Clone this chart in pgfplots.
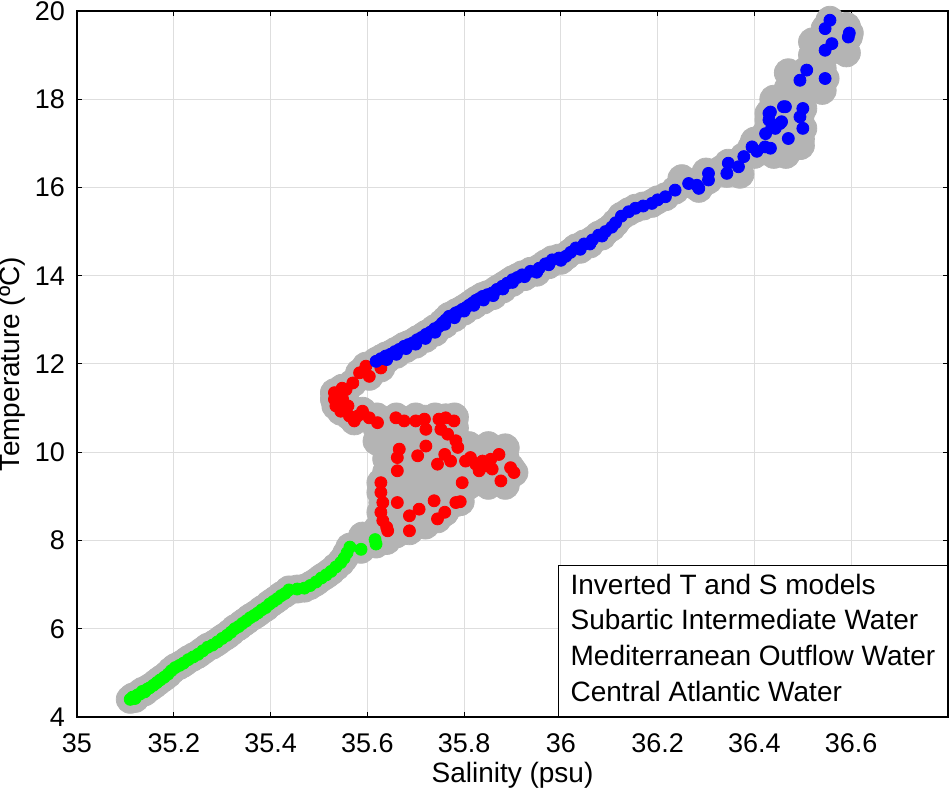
\documentclass[border=0pt]{standalone}
\usepackage{pgfplots}
\pgfplotsset{compat=1.18}
\usepackage{pgfplotstable}
\usepackage{fontspec}
\setmainfont{Liberation Sans}
\usetikzlibrary{calc}
\definecolor{ptgray}{RGB}{180,180,180}
\definecolor{gridc}{RGB}{222,222,222}

\pgfplotstableread{
x y
35.110 4.40
35.115 4.45
35.120 4.42
35.125 4.50
35.130 4.52
35.135 4.58
35.140 4.57
35.145 4.63
35.150 4.66
35.158 4.72
35.165 4.78
35.172 4.84
35.180 4.90
35.188 4.97
35.195 5.05
35.203 5.12
35.212 5.17
35.220 5.22
35.230 5.30
35.240 5.36
35.250 5.42
35.260 5.50
35.270 5.58
35.280 5.63
35.290 5.70
35.300 5.78
35.310 5.85
35.318 5.92
35.326 6.00
35.334 6.05
35.342 6.12
35.350 6.18
35.358 6.25
35.366 6.30
35.374 6.36
35.382 6.43
35.390 6.48
35.398 6.56
35.406 6.62
35.414 6.68
35.422 6.75
35.430 6.80
35.438 6.88
35.455 6.90
35.470 6.92
35.482 6.98
35.494 7.06
35.505 7.15
35.515 7.22
35.525 7.30
35.535 7.40
35.545 7.50
35.552 7.60
35.558 7.72
35.564 7.85
35.587 7.80
35.618 7.92
35.616 8.02
}\greendata

\pgfplotstableread{
x y
35.628 11.91
35.597 11.95
35.584 11.80
35.604 11.72
35.570 11.57
35.556 11.42
35.548 11.45
35.542 11.31
35.532 11.35
35.532 11.20
35.549 11.20
35.535 11.05
35.560 11.05
35.545 10.93
35.563 10.82
35.580 10.82
35.573 10.71
35.590 10.93
35.604 10.78
35.621 10.67
35.659 10.78
35.676 10.71
35.700 10.71
35.718 10.75
35.721 10.52
35.748 10.75
35.762 10.78
35.779 10.71
35.752 10.52
35.766 10.41
35.783 10.26
35.787 10.11
35.666 10.07
35.662 9.88
35.662 9.58
35.704 9.92
35.721 10.14
35.745 9.73
35.760 9.95
35.772 9.80
35.803 9.80
35.813 9.88
35.824 9.73
35.831 9.58
35.838 9.80
35.845 9.69
35.855 9.84
35.872 9.95
35.858 9.62
35.896 9.65
35.903 9.54
35.876 9.35
35.796 9.31
35.628 9.31
35.628 9.09
35.632 8.86
35.628 8.64
35.632 8.45
35.642 8.22
35.640 8.30
35.662 8.86
35.687 8.56
35.687 8.22
35.707 8.71
35.738 8.90
35.760 8.64
35.745 8.49
35.783 8.86
35.792 8.88
}\reddata

\pgfplotstableread{
x y
35.618 12.06
35.628 12.12
35.638 12.18
35.648 12.22
35.657 12.28
35.666 12.33
35.676 12.40
35.685 12.44
35.694 12.48
35.703 12.55
35.712 12.60
35.721 12.67
35.730 12.72
35.739 12.80
35.748 12.85
35.755 12.93
35.762 13.00
35.769 13.08
35.776 13.10
35.783 13.16
35.790 13.19
35.797 13.24
35.804 13.28
35.810 13.33
35.817 13.38
35.824 13.44
35.831 13.48
35.838 13.53
35.848 13.57
35.858 13.61
35.868 13.69
35.879 13.76
35.889 13.83
35.900 13.91
35.910 13.96
35.920 14.02
35.937 14.10
35.955 14.17
35.968 14.27
35.982 14.36
35.996 14.40
36.010 14.44
36.020 14.53
36.031 14.63
36.048 14.72
36.065 14.81
36.078 14.92
36.092 15.00
36.105 15.10
36.113 15.20
36.125 15.35
36.140 15.45
36.154 15.53
36.170 15.58
36.188 15.64
36.200 15.72
36.216 15.79
36.236 15.94
36.264 16.09
36.285 15.98
36.281 16.05
36.305 16.17
36.305 16.32
36.343 16.32
36.346 16.55
36.367 16.47
36.378 16.70
36.395 16.92
36.405 16.82
36.422 16.92
36.433 16.89
36.423 17.22
36.436 17.37
36.443 17.34
36.430 17.53
36.430 17.68
36.433 17.71
36.453 17.45
36.456 17.49
36.464 17.83
36.460 17.83
36.470 17.11
36.494 17.60
36.500 17.79
36.500 17.34
36.494 18.43
36.508 18.66
36.546 18.47
36.546 19.11
36.560 19.26
36.594 19.41
36.596 19.50
36.546 19.60
36.556 19.79
35.640 12.10
35.660 12.22
35.680 12.35
35.700 12.45
35.720 12.58
35.740 12.72
35.760 12.90
35.780 13.05
35.800 13.20
35.820 13.33
35.840 13.45
35.860 13.55
35.880 13.70
35.900 13.85
35.925 13.98
35.950 14.08
35.975 14.25
36.000 14.35
36.040 14.60
36.060 14.72
36.085 14.90
}\bluedata

\pgfplotstableread{
x y
35.62 10.25
35.66 10.25
35.70 10.25
35.74 10.25
35.78 10.25
35.62 10.55
35.66 10.55
35.70 10.55
35.74 10.55
35.78 10.55
35.62 10.80
35.66 10.80
35.70 10.80
35.74 10.80
35.78 10.80
35.81 9.25
35.85 9.25
35.885 9.25
35.81 9.55
35.85 9.55
35.885 9.55
35.81 9.85
35.85 9.85
35.885 9.85
35.81 10.15
35.85 10.15
35.885 10.10
35.64 8.35
35.68 8.35
35.72 8.35
35.64 8.65
35.68 8.65
35.72 8.65
35.76 8.65
35.64 8.95
35.68 8.95
35.72 8.95
35.76 8.95
35.78 8.95
35.64 9.25
35.68 9.25
35.72 9.25
35.76 9.25
35.78 9.25
35.64 9.55
35.68 9.55
35.72 9.55
35.76 9.55
35.64 9.85
35.68 9.85
35.72 9.85
35.76 9.85
35.64 10.05
35.70 10.05
35.76 10.05
35.60 7.95
35.64 8.00
35.66 8.15
35.59 8.10
35.62 8.25
36.55 19.65
36.59 19.65
36.55 19.35
36.59 19.35
36.55 19.05
36.59 19.05
36.52 19.30
36.52 19.00
36.52 18.70
36.54 18.70
36.52 18.40
36.54 18.40
36.47 18.60
36.47 18.25
36.51 18.25
36.54 18.20
36.44 18.00
36.47 18.00
36.495 18.00
36.44 17.70
36.47 17.70
36.495 17.70
36.44 17.40
36.47 17.40
36.495 17.40
36.44 17.10
36.47 17.10
36.495 17.10
36.495 16.95
36.36 16.55
36.40 16.75
36.40 17.05
36.44 16.75
36.465 16.75
36.37 16.30
36.33 16.40
36.25 16.20
36.30 16.35
}\grayextra

\begin{document}
\begin{tikzpicture}
\begin{axis}[
  scale only axis,
  width=435.5pt, height=353pt,
  xmin=35, xmax=36.8, ymin=4, ymax=20,
  xtick={35,35.2,35.4,35.6,35.8,36,36.2,36.4,36.6},
  xticklabels={35,35.2,35.4,35.6,35.8,36,36.2,36.4,36.6},
  ytick={4,6,8,10,12,14,16,18,20},
  tick align=inside, tick pos=both,
  major tick length=2.5pt,
  grid=major,
  major grid style={gridc, line width=0.5pt},
  axis line style={black, line width=0.7pt},
  every tick/.style={black, line width=0.5pt},
  /pgf/number format/assume math mode=true,
  tick label style={font=\fontsize{13.5}{16}\selectfont},
  yticklabel style={xshift=-2.5pt},
  xticklabel style={yshift=-5pt},
  label style={font=\fontsize{14}{17}\selectfont},
  xlabel={Salinity (psu)},
  ylabel={Temperature (ºC)},
  xlabel style={at={(axis description cs:0.5,-0.082)}, anchor=center},
  ylabel style={at={(axis description cs:-0.0746,0.5)}, anchor=center},
  legend cell align=left,
  legend style={at={(1,0)}, anchor=south east, draw=black, line width=0.7pt,
    font=\fontsize{14}{17}\selectfont,
    inner xsep=1.5pt, inner ysep=2.15pt,
    nodes={inner xsep=4.5pt, inner ysep=2.6pt, text height=9.8pt, text depth=2.8pt},
    column sep=0pt, row sep=0pt},
]
\addplot[only marks, mark=*, mark size=7pt, color=ptgray, forget plot] table[x=x,y=y] {\grayextra};
\addplot[only marks, mark=*, mark size=7pt, color=ptgray, forget plot] table[x=x,y=y] {\greendata};
\addplot[only marks, mark=*, mark size=7pt, color=ptgray, forget plot] table[x=x,y=y] {\reddata};
\addplot[only marks, mark=*, mark size=7pt, color=ptgray, forget plot] table[x=x,y=y] {\bluedata};
\addplot[only marks, mark=*, mark size=3pt, color=green, forget plot] table[x=x,y=y] {\greendata};
\addplot[only marks, mark=*, mark size=3pt, color=red, forget plot] table[x=x,y=y] {\reddata};
\addplot[only marks, mark=*, mark size=3pt, color=blue, forget plot] table[x=x,y=y] {\bluedata};
\addlegendimage{empty legend}\addlegendentry{Inverted T and S models}
\addlegendimage{empty legend}\addlegendentry{Subartic Intermediate Water}
\addlegendimage{empty legend}\addlegendentry{Mediterranean Outflow Water}
\addlegendimage{empty legend}\addlegendentry{Central Atlantic Water}
\coordinate (sw) at (rel axis cs:0,0);
\coordinate (ne) at (rel axis cs:1,1);
\end{axis}
\pgfresetboundingbox
\path ($(sw)+(-38.5pt,-41.5pt)$) rectangle ($(ne)+(1pt,5.5pt)$);
\end{tikzpicture}
\end{document}
